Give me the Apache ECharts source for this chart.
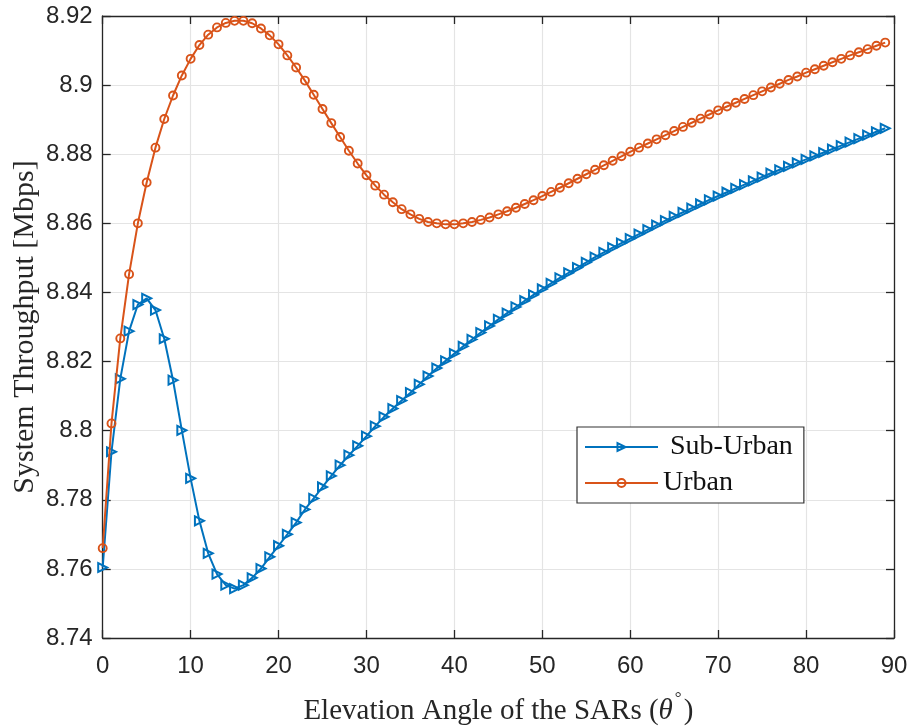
<!DOCTYPE html>
<html>
<head>
<meta charset="utf-8">
<title>System Throughput vs Elevation Angle</title>
<script src="https://cdn.jsdelivr.net/npm/echarts@6/dist/echarts.min.js"></script>
<style>
  html, body { margin: 0; padding: 0; background: #ffffff; }
  #chart { width: 909px; height: 727px; }
</style>
</head>
<body>
<div id="chart"></div>
<script>
// Elevation angles (degrees), one sample per degree
const angles = Array.from({ length: 90 }, (_, i) => i);

// System throughput [Mbps], sub-urban environment
const subUrban = [
  8.7604, 8.7939, 8.8150, 8.8288, 8.8365, 8.8383, 8.8349, 8.8266, 8.8146, 8.8001,
  8.7862, 8.7739, 8.7645, 8.7585, 8.7553, 8.7543, 8.7553, 8.7574, 8.7601, 8.7635,
  8.7667, 8.7700, 8.7734, 8.7772, 8.7804, 8.7837, 8.7869, 8.7900, 8.7929, 8.7956,
  8.7984, 8.8013, 8.8040, 8.8064, 8.8087, 8.8110, 8.8134, 8.8158, 8.8181, 8.8202,
  8.8223, 8.8244, 8.8264, 8.8284, 8.8303, 8.8322, 8.8340, 8.8358, 8.8376, 8.8393,
  8.8410, 8.8426, 8.8442, 8.8457, 8.8472, 8.8487, 8.8502, 8.8516, 8.8530, 8.8543,
  8.8556, 8.8569, 8.8582, 8.8595, 8.8608, 8.8620, 8.8632, 8.8644, 8.8656, 8.8668,
  8.8679, 8.8690, 8.8701, 8.8712, 8.8723, 8.8734, 8.8745, 8.8755, 8.8765, 8.8775,
  8.8785, 8.8795, 8.8805, 8.8815, 8.8825, 8.8835, 8.8845, 8.8855, 8.8865, 8.8875
];

// System throughput [Mbps], urban environment
const urban = [
  8.7660, 8.8021, 8.8267, 8.8453, 8.8600, 8.8718, 8.8819, 8.8902, 8.8970, 8.9028,
  8.9076, 8.9116, 8.9146, 8.9167, 8.9180, 8.9186, 8.9186, 8.9179, 8.9164, 8.9144,
  8.9118, 8.9086, 8.9051, 8.9013, 8.8972, 8.8931, 8.8890, 8.8850, 8.8810, 8.8773,
  8.8739, 8.8709, 8.8683, 8.8661, 8.8641, 8.8626, 8.8613, 8.8604, 8.8600, 8.8597,
  8.8597, 8.8600, 8.8604, 8.8610, 8.8617, 8.8626, 8.8635, 8.8645, 8.8656, 8.8667,
  8.8679, 8.8691, 8.8703, 8.8716, 8.8729, 8.8742, 8.8755, 8.8768, 8.8781, 8.8794,
  8.8807, 8.8819, 8.8831, 8.8843, 8.8855, 8.8867, 8.8879, 8.8891, 8.8903, 8.8915,
  8.8927, 8.8938, 8.8949, 8.8960, 8.8971, 8.8982, 8.8993, 8.9004, 8.9015, 8.9025,
  8.9036, 8.9046, 8.9056, 8.9066, 8.9076, 8.9086, 8.9095, 8.9104, 8.9114, 8.9123
];

// Axis ranges and tick spacing
const xRange = [0, 90];
const xStep = 10;
const yRange = [8.74, 8.92];
const yStep = 0.02;

const BLUE = '#0072BD';
const ORANGE = '#D95319';
const AXIS = '#262626';
const GRID = '#e4e4e4';
const SANS = "'Liberation Sans', Arial, Helvetica, sans-serif";
const SERIF = "'Liberation Serif', 'Times New Roman', Times, serif";

const chart = echarts.init(document.getElementById('chart'), null, { renderer: 'canvas' });

const toPairs = (ys) => angles.map((a, i) => [a, ys[i]]);

const frameAxis = {
  axisLine: { show: true, onZero: false, lineStyle: { color: AXIS, width: 1.3 } },
  axisTick: { show: true, inside: true, length: 8, lineStyle: { color: AXIS, width: 1.3 } },
  axisLabel: { show: false },
  splitLine: { show: false }
};

const option = {
  backgroundColor: '#ffffff',
  animation: false,
  grid: { left: 102.7, right: 15, top: 16, bottom: 89, containLabel: false, outerBoundsMode: 'none' },
  xAxis: [
    {
      type: 'value',
      min: xRange[0], max: xRange[1], interval: xStep,
      position: 'bottom',
      name: '{t|Elevation Angle of the SARs (}{i|θ}{d|°}{t|)}',
      nameLocation: 'middle',
      nameGap: 52,
      nameTextStyle: {
        rich: {
          t: { fontFamily: SERIF, fontSize: 29, color: AXIS, lineHeight: 36, verticalAlign: 'bottom' },
          i: { fontFamily: SERIF, fontSize: 29, fontStyle: 'italic', color: AXIS, lineHeight: 36, verticalAlign: 'bottom', padding: [0, 2, 0, 0] },
          d: { fontFamily: SERIF, fontSize: 17, color: AXIS, lineHeight: 17, verticalAlign: 'top', padding: [0, 2, 0, 0] }
        }
      },
      axisLine: { show: true, onZero: false, lineStyle: { color: AXIS, width: 1.3 } },
      axisTick: { show: true, inside: true, length: 8, lineStyle: { color: AXIS, width: 1.3 } },
      axisLabel: { fontFamily: SANS, fontSize: 24, color: AXIS, margin: 16 },
      splitLine: { show: true, lineStyle: { color: GRID, width: 1.2 } }
    },
    Object.assign({ type: 'value', min: xRange[0], max: xRange[1], interval: xStep, position: 'top' }, frameAxis)
  ],
  yAxis: [
    {
      type: 'value',
      min: yRange[0], max: yRange[1], interval: yStep,
      position: 'left',
      name: 'System Throughput [Mbps]',
      nameLocation: 'middle',
      nameGap: 63,
      nameMoveOverlap: false,
      nameTextStyle: { fontFamily: SERIF, fontSize: 30, color: AXIS },
      axisLine: { show: true, onZero: false, lineStyle: { color: AXIS, width: 1.3 } },
      axisTick: { show: true, inside: true, length: 8, lineStyle: { color: AXIS, width: 1.3 } },
      axisLabel: {
        fontFamily: SANS, fontSize: 24, color: AXIS, margin: 10,
        formatter: (v) => {
          const s = v.toFixed(2);
          return s.endsWith('0') ? v.toFixed(1) : s;
        }
      },
      splitLine: { show: true, lineStyle: { color: GRID, width: 1.2 } }
    },
    Object.assign({ type: 'value', min: yRange[0], max: yRange[1], interval: yStep, position: 'right' }, frameAxis)
  ],
  legend: {
    orient: 'vertical',
    left: 577,
    top: 427,
    padding: [5, 11, 5, 7],
    itemWidth: 73,
    itemHeight: 10,
    itemGap: 6,
    backgroundColor: '#ffffff',
    borderColor: '#333333',
    borderWidth: 1.2,
    borderRadius: 0,
    textStyle: { fontFamily: SERIF, fontSize: 28, color: '#111111', lineHeight: 30 },
    formatter: (name) => (name === 'Sub-Urban' ? ' ' + name : name),
    data: ['Sub-Urban', 'Urban']
  },
  series: [
    {
      name: 'Sub-Urban',
      type: 'line',
      data: toPairs(subUrban),
      symbol: 'triangle',
      symbolRotate: -90,
      symbolSize: 9,
      showAllSymbol: true,
      lineStyle: { color: BLUE, width: 2 },
      itemStyle: { color: 'rgba(255,255,255,0)', borderColor: BLUE, borderWidth: 2 },
      emphasis: { disabled: true },
      z: 3
    },
    {
      name: 'Urban',
      type: 'line',
      data: toPairs(urban),
      symbol: 'circle',
      symbolSize: 8,
      showAllSymbol: true,
      lineStyle: { color: ORANGE, width: 2 },
      itemStyle: { color: 'rgba(255,255,255,0)', borderColor: ORANGE, borderWidth: 1.9 },
      emphasis: { disabled: true },
      z: 4
    }
  ]
};

chart.setOption(option);
</script>
</body>
</html>
